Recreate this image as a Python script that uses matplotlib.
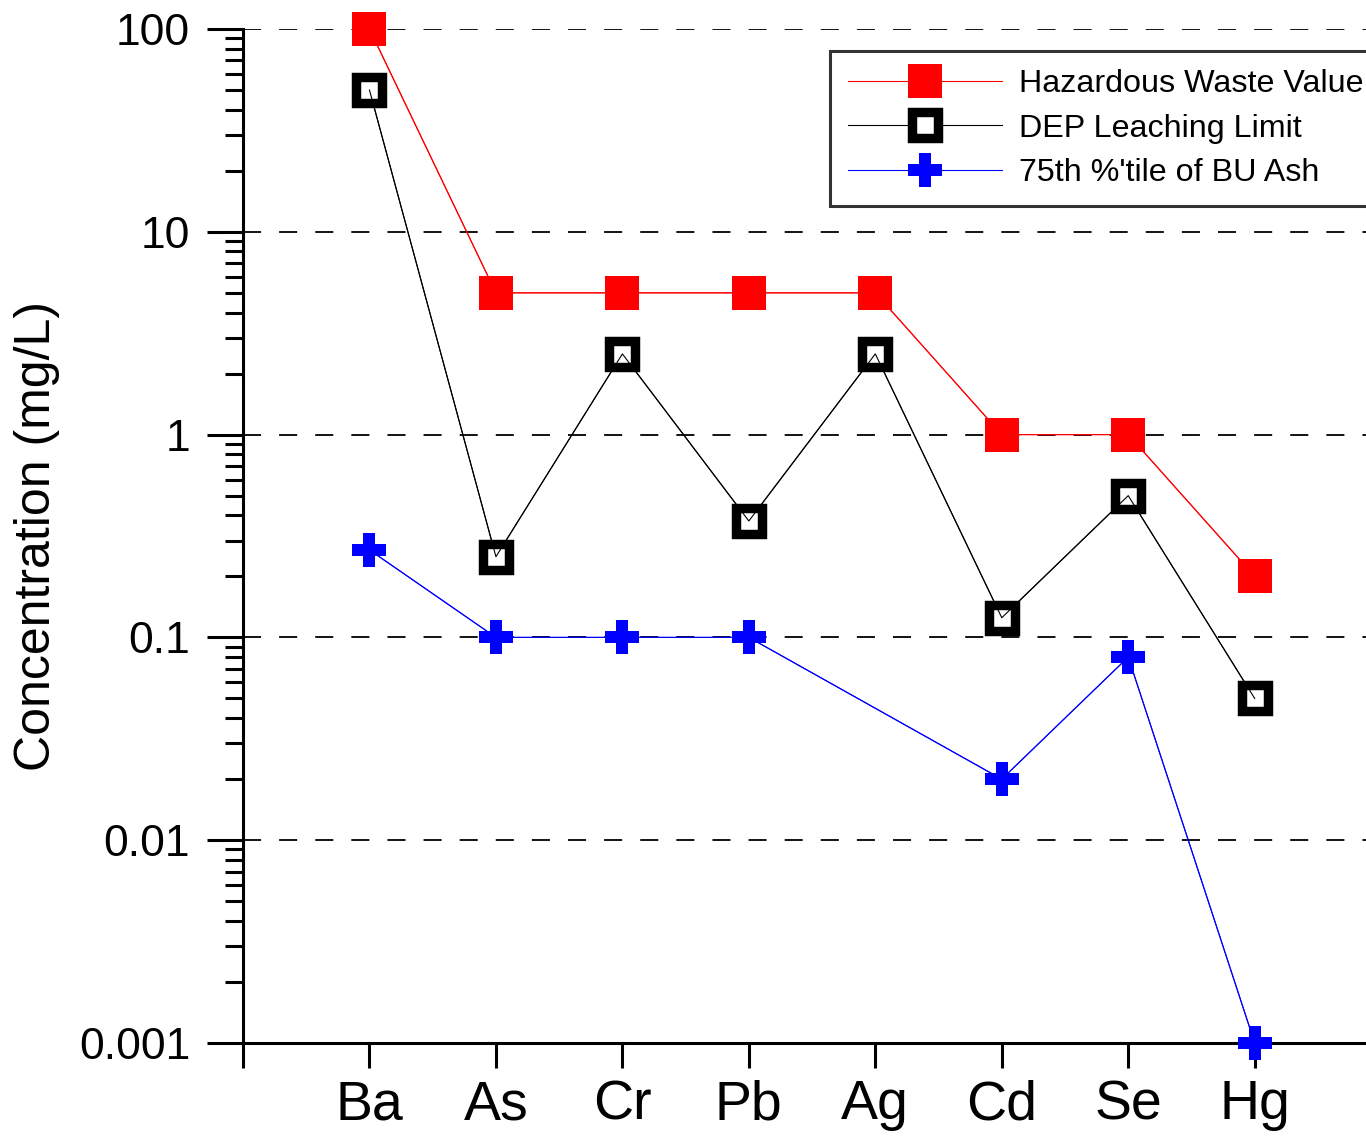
import numpy as np
import matplotlib
matplotlib.use('Agg')
import matplotlib.pyplot as plt

plt.rcParams['font.family'] = ['Liberation Sans', 'DejaVu Sans']

elements = ['Ba', 'As', 'Cr', 'Pb', 'Ag', 'Cd', 'Se', 'Hg']
hazardous = [100, 5, 5, 5, 5, 1, 1, 0.2]
dep_limit = [50, 0.25, 2.5, 0.375, 2.5, 0.125, 0.5, 0.05]
# no Ag value for the ash series
ash_elements = ['Ba', 'As', 'Cr', 'Pb', 'Cd', 'Se', 'Hg']
ash_75th = [0.27, 0.1, 0.1, 0.1, 0.02, 0.08, 0.001]

x = np.arange(1, len(elements) + 1)
x_ash = np.array([elements.index(e) + 1 for e in ash_elements])

fig = plt.figure(figsize=(13.66, 11.39), dpi=100)
ax = fig.add_axes([243 / 1366, 1 - 1043 / 1139, 1 - 243 / 1366, (1043 - 29) / 1139])

# series with markers (used for legend), then thin lines drawn over them
ax.plot(x, hazardous, color='red', lw=0.8, marker='s', ms=25, mfc='red', mec='red', mew=0,
        label='Hazardous Waste Value', zorder=3, clip_on=False)
ax.plot(x, dep_limit, color='black', lw=0.8, marker='s', ms=18.4, mfc='white', mec='black', mew=6.8,
        label='DEP Leaching Limit', zorder=3, clip_on=False)
ax.plot(x_ash, ash_75th, color='blue', lw=0.8, marker='P', ms=25, mfc='blue', mec='blue', mew=0,
        label="75th %'tile of BU Ash", zorder=3, clip_on=False)
ax.plot(x, hazardous, color='red', lw=0.8, zorder=4, clip_on=False)
ax.plot(x, dep_limit, color='black', lw=0.8, zorder=4, clip_on=False)
ax.plot(x_ash, ash_75th, color='blue', lw=0.8, zorder=4, clip_on=False)

ax.set_yscale('log')
ax.set_ylim(0.001, 100)
ax.set_xlim(0, 8.88)

ax.set_yticks([0.001, 0.01, 0.1, 1, 10, 100])
ax.set_yticklabels(['0.001', '0.01', '0.1', '1', '10', '100'])
ax.set_xticks(np.arange(0, 9))
ax.set_xticklabels([''] + elements)

ax.yaxis.grid(True, which='major', color='black', linestyle=(0, (10, 10)), lw=1.3)
ax.set_axisbelow(True)

for side in ['top', 'right']:
    ax.spines[side].set_visible(False)
for side in ['left', 'bottom']:
    ax.spines[side].set_linewidth(2.2)

ax.tick_params(axis='y', which='major', direction='out', length=26, width=2.2, pad=12, labelsize=32)
ax.tick_params(axis='y', which='minor', direction='out', length=13, width=2.2)
ax.tick_params(axis='x', which='major', direction='out', length=18, width=2.2, pad=8, labelsize=40)

ax.set_ylabel('Concentration (mg/L)', fontsize=36, labelpad=14)

leg = ax.legend(loc='upper left', bbox_to_anchor=(0.5227, 0.978), borderaxespad=0,
                fontsize=23.2, frameon=True, fancybox=False, edgecolor='black',
                handlelength=4.8, handletextpad=0.52, borderpad=0.55, labelspacing=0.45)
leg.get_frame().set_linewidth(2.2)

fig.savefig('out.png', dpi=100, facecolor='white')
